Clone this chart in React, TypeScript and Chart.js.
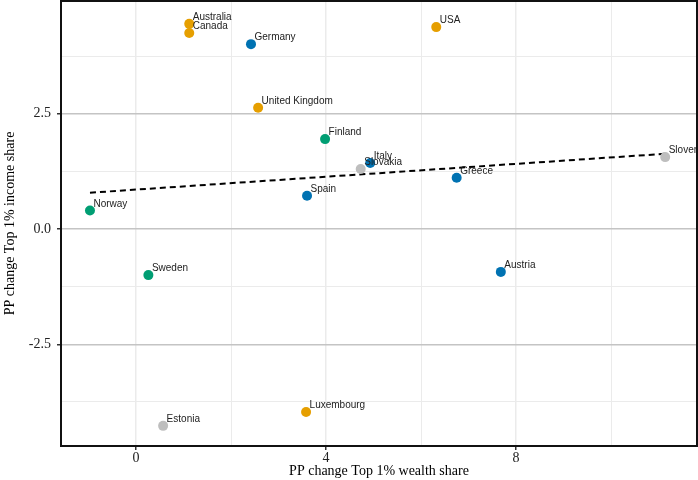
import React, { useEffect, useRef } from 'react';
import { Chart, registerables } from 'chart.js';

Chart.register(...registerables);

const countries = ['Australia', 'Canada', 'Germany', 'USA', 'United Kingdom', 'Finland', 'Slovakia', 'Italy', 'Spain', 'Greece', 'Slovenia', 'Norway', 'Sweden', 'Austria', 'Luxembourg', 'Estonia'];
const wealthChange = [1.12, 1.12, 2.42, 6.32, 2.57, 3.98, 4.73, 4.93, 3.6, 6.75, 11.14, -0.97, 0.26, 7.68, 3.58, 0.57];
const incomeChange = [4.45, 4.25, 4.01, 4.38, 2.63, 1.95, 1.3, 1.43, 0.72, 1.11, 1.56, 0.4, -1.0, -0.93, -3.97, -4.27];
const groups = ['Anglo', 'Anglo', 'Continental', 'Anglo', 'Anglo', 'Nordic', 'Eastern', 'Continental', 'Continental', 'Continental', 'Eastern', 'Nordic', 'Nordic', 'Continental', 'Anglo', 'Eastern'];
const groupColors: Record<string, string> = {
  Continental: '#0072B2',
  Anglo: '#E69F00',
  Nordic: '#009E73',
  Eastern: '#BEBEBE',
};
const trendX = [-0.97, 11.14];
const trendY = [0.787, 1.632];

const xRange = [-1.58, 11.81];
const yRange = [-4.707, 4.946];

const SERIF = '"Liberation Serif", "Times New Roman", serif';
const SANS = '"Liberation Sans", Arial, sans-serif';

const isMult = (v: number, m: number) => Math.abs(v / m - Math.round(v / m)) < 1e-6;

const labelPlugin = {
  id: 'pointLabels',
  afterDatasetsDraw(chart: any) {
    const meta = chart.getDatasetMeta(0);
    const ctx = chart.ctx;
    const a = chart.chartArea;
    ctx.save();
    ctx.beginPath();
    ctx.rect(a.left, a.top, a.right - a.left, a.bottom - a.top);
    ctx.clip();
    ctx.font = '10px ' + SANS;
    ctx.fillStyle = '#222';
    ctx.textBaseline = 'middle';
    ctx.textAlign = 'left';
    meta.data.forEach((el: any, i: number) => {
      ctx.fillText(countries[i], el.x + 3.5, el.y - 6.5);
    });
    ctx.restore();
  },
};

const borderPlugin = {
  id: 'panelBorder',
  afterDraw(chart: any) {
    const ctx = chart.ctx;
    const a = chart.chartArea;
    ctx.save();
    ctx.strokeStyle = '#111';
    ctx.lineWidth = 2;
    ctx.strokeRect(a.left, a.top, a.right - a.left, a.bottom - a.top);
    ctx.restore();
  },
};

export default function App() {
  const ref = useRef<HTMLCanvasElement>(null);

  useEffect(() => {
    if (!ref.current) return;
    const chart = new Chart(ref.current, {
      type: 'scatter',
      data: {
        datasets: [
          {
            type: 'scatter',
            data: wealthChange.map((x, i) => ({ x, y: incomeChange[i] })),
            pointRadius: 5,
            pointBorderWidth: 0,
            pointBackgroundColor: groups.map((g) => groupColors[g]),
            order: 0,
          } as any,
          {
            type: 'line',
            data: trendX.map((x, i) => ({ x, y: trendY[i] })),
            borderColor: '#000',
            borderWidth: 2,
            borderDash: [6, 4],
            pointRadius: 0,
            fill: false,
            order: 1,
          } as any,
        ],
      },
      options: {
        animation: false,
        responsive: false,
        layout: { autoPadding: false, padding: { left: 0, right: 1, top: 1, bottom: 0 } },
        plugins: { legend: { display: false }, tooltip: { enabled: false } },
        scales: {
          x: {
            type: 'linear',
            min: xRange[0],
            max: xRange[1],
            border: { display: false },
            afterFit: (s: any) => {
              s.height = 34;
              s.paddingLeft = 0;
              s.paddingRight = 0;
            },
            grid: {
              color: (c: any) => '#ebebeb',
              lineWidth: (c: any) => (c.tick && isMult(c.tick.value, 4) ? 1.5 : 1),
              tickColor: (c: any) => (c.tick && isMult(c.tick.value, 4) ? '#333' : 'rgba(0,0,0,0)'),
              tickLength: 4,
            },
            ticks: {
              stepSize: 2,
              includeBounds: false,
              autoSkip: false,
              maxRotation: 0,
              padding: 0,
              color: '#222',
              font: { family: SERIF, size: 14 },
              callback: (v: any) => (isMult(Number(v), 4) ? String(Math.round(Number(v))) : ''),
            },
            title: {
              display: true,
              text: 'PP change Top 1% wealth share',
              color: '#000',
              font: { family: SERIF, size: 14 },
              padding: { top: 0, bottom: 0 },
            },
          },
          y: {
            type: 'linear',
            min: yRange[0],
            max: yRange[1],
            border: { display: false },
            afterFit: (s: any) => {
              s.width = 61;
              s.paddingTop = 0;
              s.paddingBottom = 0;
            },
            grid: {
              color: (c: any) => (c.tick && isMult(c.tick.value, 2.5) ? '#c4c4c4' : '#ebebeb'),
              lineWidth: (c: any) => (c.tick && isMult(c.tick.value, 2.5) ? 1.5 : 1),
              tickColor: (c: any) => (c.tick && isMult(c.tick.value, 2.5) ? '#333' : 'rgba(0,0,0,0)'),
              tickLength: 4,
            },
            ticks: {
              stepSize: 1.25,
              includeBounds: false,
              autoSkip: false,
              padding: 6,
              color: '#222',
              font: { family: SERIF, size: 14 },
              callback: (v: any) => (isMult(Number(v), 2.5) ? Number(v).toFixed(1) : ''),
            },
            title: {
              display: true,
              text: 'PP change Top 1% income share',
              color: '#000',
              font: { family: SERIF, size: 14 },
              padding: { top: 2, bottom: 0 },
            },
          },
        },
      },
      plugins: [labelPlugin, borderPlugin],
    });
    return () => chart.destroy();
  }, []);

  return (
    <div style={{ position: 'absolute', left: 0, top: 0, width: 698, height: 480, background: '#fff' }}>
      <canvas ref={ref} width={698} height={480} style={{ display: 'block' }} />
    </div>
  );
}
